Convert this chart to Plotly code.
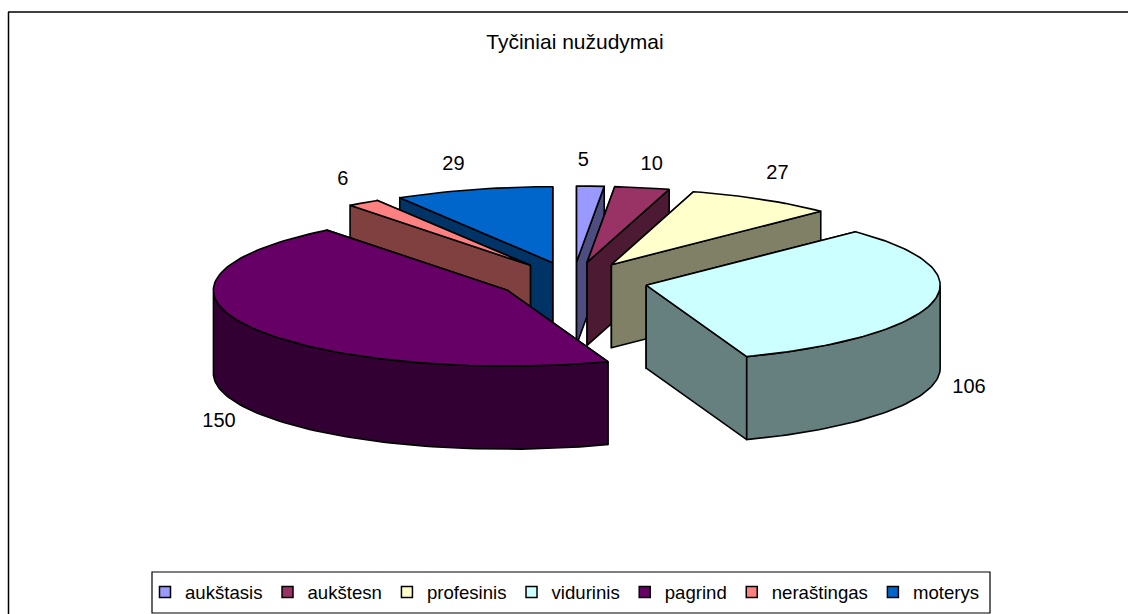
import numpy as np
import plotly.graph_objects as go

title_text = "Tyčiniai nužudymai"
categories = ["aukštasis", "aukštesn", "profesinis", "vidurinis", "pagrind", "neraštingas", "moterys"]
values = [5, 10, 27, 106, 150, 6, 29]
top_colors = ["#9999FF", "#993366", "#FFFFCC", "#CCFFFF", "#660066", "#FF8080", "#0066CC"]
side_colors = ["#4D4D80", "#4D1A33", "#808066", "#668080", "#330033", "#804040", "#003366"]
draw_order = [6, 5, 0, 1, 2, 3, 4]  # painter's order, back to front
label_nudge_x = [-9, 2, -5, -2, 7, 2, -9]
label_nudge_y = [2, 4, 2, -8, 1, 4, 2]

CX, CY = 573, 281      # pie centre on the page
RX, RY = 294, 76       # ellipse radii of the top face
DEPTH = 83             # height of the extrusion
EXPLODE_X, EXPLODE_Y = 75, 19

W, H = 1128, 614
total = sum(values)
edges = np.concatenate([[0], np.cumsum(values)]) / total * 2 * np.pi

fig = go.Figure()


def poly(xs, ys, fill):
    fig.add_trace(go.Scatter(
        x=list(xs), y=list(ys), mode="lines", fill="toself", fillcolor=fill,
        line=dict(color="black", width=1.6), hoverinfo="skip", showlegend=False))


label_x, label_y = [None] * 7, [None] * 7
for i in draw_order:
    a0, a1 = edges[i], edges[i + 1]
    mid = (a0 + a1) / 2
    ax = CX + EXPLODE_X * np.sin(mid)
    ay = CY - EXPLODE_Y * np.cos(mid)
    t = np.linspace(a0, a1, max(int((a1 - a0) * 40), 3))
    rx = ax + RX * np.sin(t)
    ry = ay - RY * np.cos(t)
    # radial walls, the farther one first
    walls = sorted(((rx[0], ry[0]), (rx[-1], ry[-1])), key=lambda p: p[1])
    for ex, ey in walls:
        poly([ax, ex, ex, ax, ax], [ay, ey, ey + DEPTH, ay + DEPTH, ay], side_colors[i])
    # outer wall (only the part turned towards the viewer)
    front = (t >= np.pi / 2) & (t <= 3 * np.pi / 2)
    if front.any():
        fx, fy = rx[front], ry[front]
        poly(np.r_[fx, fx[::-1], fx[0]], np.r_[fy, fy[::-1] + DEPTH, fy[0]], side_colors[i])
    # top face
    poly(np.r_[ax, rx, ax], np.r_[ay, ry, ay], top_colors[i])
    mx, my = ax + RX * np.sin(mid), ay - RY * np.cos(mid)
    if np.cos(mid) > 0:
        label_x[i] = mx + 40 * np.sin(mid) + label_nudge_x[i]
        label_y[i] = my - 27 + label_nudge_y[i]
    else:
        label_x[i] = mx + 38 * np.sign(np.sin(mid)) + label_nudge_x[i]
        label_y[i] = my + DEPTH + 11 + label_nudge_y[i]

fig.add_trace(go.Scatter(
    x=label_x, y=label_y, mode="text", text=[str(v) for v in values],
    textposition="middle center", textfont=dict(size=20, color="black"),
    hoverinfo="skip", showlegend=False))

for i, name in enumerate(categories):
    fig.add_trace(go.Scatter(
        x=[None], y=[None], mode="markers", name=name, legendrank=i + 1,
        marker=dict(symbol="square", size=11, color=top_colors[i], line=dict(color="black", width=1.5))))

fig.update_layout(
    width=W, height=H, margin=dict(l=0, r=0, t=0, b=0),
    paper_bgcolor="white", plot_bgcolor="white",
    font=dict(family="Liberation Sans", size=20, color="black"),
    title=dict(text=title_text, x=575 / W, xanchor="center", y=1 - 42 / H, yanchor="middle",
               font=dict(size=21)),
    xaxis=dict(range=[0, W], visible=False, fixedrange=True),
    yaxis=dict(range=[H, 0], visible=False, fixedrange=True),
    legend=dict(orientation="h", x=145 / W, xanchor="left", y=1 - 592.5 / H, yanchor="middle",
                borderwidth=0, bgcolor="rgba(0,0,0,0)", itemwidth=30,
                font=dict(size=18.6), traceorder="normal"),
    shapes=[
        dict(type="line", xref="paper", yref="paper", x0=8.5 / W, x1=8.5 / W, y0=0, y1=1 - 12 / H,
             line=dict(color="black", width=1.5)),
        dict(type="line", xref="paper", yref="paper", x0=8 / W, x1=1, y0=1 - 12 / H, y1=1 - 12 / H,
             line=dict(color="black", width=1.5)),
        dict(type="rect", xref="paper", yref="paper", x0=152 / W, x1=990 / W, y0=1 - 613 / H, y1=1 - 572 / H,
             line=dict(color="black", width=1.2), fillcolor="white", layer="below"),
    ],
)

fig.write_html("out.html", config={"displayModeBar": False},
               post_script="document.body.style.margin='0';")
